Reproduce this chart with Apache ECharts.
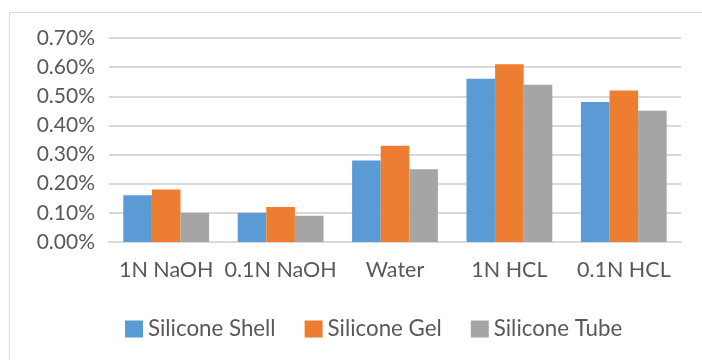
<!DOCTYPE html>
<html>
<head>
<meta charset="utf-8">
<style>
  html, body { margin: 0; padding: 0; background: #fff; }
  #chart { width: 702px; height: 360px; }
</style>
<script src="https://cdn.jsdelivr.net/npm/echarts@6/dist/echarts.min.js"></script>
</head>
<body>
<div id="chart"></div>
<script>
// Solutions the samples were soaked in
const categories = ['1N NaOH', '0.1N NaOH', 'Water', '1N HCL', '0.1N HCL'];
// Weight change per material, in percent
const siliconeShell = [0.16, 0.10, 0.28, 0.56, 0.48];
const siliconeGel   = [0.18, 0.12, 0.33, 0.61, 0.52];
const siliconeTube  = [0.10, 0.09, 0.25, 0.54, 0.45];
const yTicks = { min: 0, max: 0.70, interval: 0.10 };

const FONT = 'Lato';
const TEXT = '#595959';

const chart = echarts.init(document.getElementById('chart'));
chart.setOption({
  animation: false,
  textStyle: { fontFamily: FONT },
  color: ['#5B9BD5', '#ED7D31', '#A5A5A5'],
  graphic: [{
    type: 'rect',
    shape: { x: 9.5, y: 12.5, width: 760, height: 420 },
    style: { fill: 'none', stroke: '#D9D9D9', lineWidth: 1 },
    silent: true
  }],
  grid: { left: 109, right: 21, top: 38, bottom: 118 },
  legend: {
    left: 120,
    top: 313,
    itemWidth: 18,
    itemHeight: 17,
    itemGap: 29,
    icon: 'rect',
    textStyle: { color: TEXT, fontSize: 22.3, fontFamily: FONT, padding: [0, 0, 0, 0] },
    data: ['Silicone Shell', 'Silicone Gel', 'Silicone Tube']
  },
  xAxis: {
    type: 'category',
    data: categories,
    axisLine: { show: true, lineStyle: { color: '#D9D9D9', width: 2 } },
    axisTick: { show: false },
    axisLabel: { color: TEXT, fontSize: 21.5, fontFamily: FONT, margin: 17, interval: 0 }
  },
  yAxis: {
    type: 'value',
    min: yTicks.min,
    max: yTicks.max,
    interval: yTicks.interval,
    axisLine: { show: false },
    axisTick: { show: false },
    splitLine: { lineStyle: { color: '#D9D9D9', width: 2 } },
    axisLabel: {
      color: TEXT, fontSize: 21, fontFamily: FONT, margin: 14,
      formatter: v => v.toFixed(2) + '%'
    }
  },
  series: [
    { name: 'Silicone Shell', type: 'bar', data: siliconeShell, barGap: '0%', barCategoryGap: '25%' },
    { name: 'Silicone Gel', type: 'bar', data: siliconeGel, barGap: '0%', barCategoryGap: '25%' },
    { name: 'Silicone Tube', type: 'bar', data: siliconeTube, barGap: '0%', barCategoryGap: '25%' }
  ]
});
</script>
</body>
</html>
